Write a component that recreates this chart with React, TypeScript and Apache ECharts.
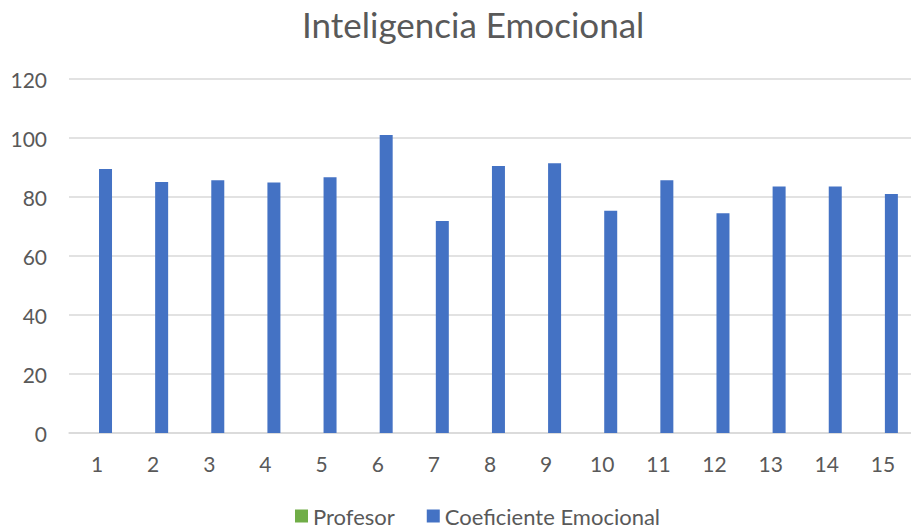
import React, { useEffect, useRef } from "react";
import * as echarts from "echarts";

const categories = ["1", "2", "3", "4", "5", "6", "7", "8", "9", "10", "11", "12", "13", "14", "15"];
const profesor: (number | null)[] = [null, null, null, null, null, null, null, null, null, null, null, null, null, null, null];
const coeficiente = [89.5, 85.1, 85.7, 84.9, 86.7, 101, 71.9, 90.5, 91.4, 75.3, 85.7, 74.5, 83.6, 83.6, 81.0];
const yTicks = { min: 0, max: 120, interval: 20 };

const FONT = "Lato, 'Open Sans', sans-serif";

export default function App() {
  const ref = useRef<HTMLDivElement>(null);
  useEffect(() => {
    if (!ref.current) return;
    const chart = echarts.init(ref.current, undefined, { renderer: "svg" });
    chart.setOption({
      animation: false,
      backgroundColor: "#ffffff",
      title: {
        text: "Inteligencia Emocional",
        left: 297,
        top: 1,
        textStyle: { fontFamily: FONT, fontSize: 35, fontWeight: "normal", color: "#595959" },
      },
      legend: {
        top: 500,
        left: 290,
        itemWidth: 13,
        itemHeight: 13,
        itemGap: 32,
        icon: "rect",
        textStyle: { fontFamily: FONT, fontSize: 22, color: "#595959" },
        data: ["Profesor", "Coeficiente Emocional"],
      },
      grid: { left: 69, top: 79, width: 855, height: 354, containLabel: false },
      xAxis: {
        type: "category",
        data: categories,
        axisLine: { lineStyle: { color: "#d9d9d9", width: 1.5 } },
        axisTick: { show: false },
        axisLabel: { fontFamily: FONT, fontSize: 21, color: "#595959", margin: 20 },
      },
      yAxis: {
        type: "value",
        min: yTicks.min,
        max: yTicks.max,
        interval: yTicks.interval,
        axisLine: { show: false },
        axisTick: { show: false },
        splitLine: { lineStyle: { color: "#d9d9d9", width: 1.5 } },
        axisLabel: { fontFamily: FONT, fontSize: 21, color: "#595959", margin: 22 },
      },
      series: [
        {
          name: "Profesor",
          type: "bar",
          data: profesor,
          barWidth: 13,
          barGap: "30%",
          itemStyle: { color: "#70ad47" },
        },
        {
          name: "Coeficiente Emocional",
          type: "bar",
          data: coeficiente,
          barWidth: 13,
          itemStyle: { color: "#4472c4" },
        },
      ],
    });
    return () => chart.dispose();
  }, []);
  return (
    <div
      ref={ref}
      style={{ position: "fixed", left: 0, top: 0, width: 911, height: 531, overflow: "hidden" }}
    />
  );
}
